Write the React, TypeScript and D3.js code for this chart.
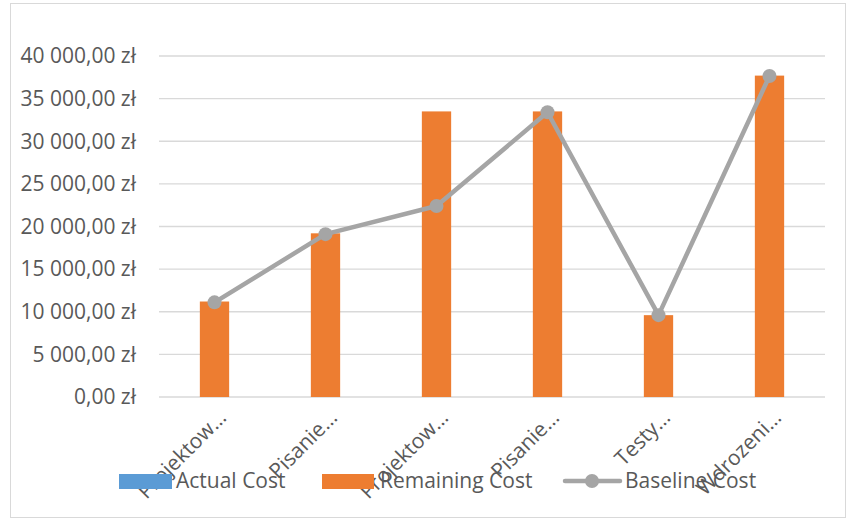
import React from "react";
import * as d3 from "d3";

const categories = ["Projektow…", "Pisanie…", "Projektow… ", "Pisanie… ", "Testy…", "Wdrozeni…"];
const actualCost = [0, 0, 0, 0, 0, 0];
const remainingCost = [11200, 19200, 33500, 33500, 9600, 37700];
const baselineCost = [11100, 19100, 22400, 33400, 9600, 37650];
const yTicks = [0, 5000, 10000, 15000, 20000, 25000, 30000, 35000, 40000];

const W = 846;
const H = 518;
const margin = { left: 159, right: 825, top: 56, bottom: 397 };
const FONT = "'Open Sans', 'Noto Sans', sans-serif";
const TEXT = "#595959";
const GRID = "#D9D9D9";
const BLUE = "#5B9BD5";
const ORANGE = "#ED7D31";
const GRAY = "#A5A5A5";

// "40 000,00 zł"
const fmtPLN = (v: number) => {
  const [int, dec] = v.toFixed(2).split(".");
  return `${int.replace(/\B(?=(\d{3})+(?!\d))/g, " ")},${dec} zł`;
};

export default function App() {
  const x = d3
    .scaleBand<string>()
    .domain(categories)
    .range([margin.left, margin.right])
    .paddingInner(0.736)
    .paddingOuter(0.368);

  const y = d3.scaleLinear().domain([0, 40000]).range([margin.bottom, margin.top]);

  const cx = (c: string) => (x(c) ?? 0) + x.bandwidth() / 2;

  const line = d3
    .line<number>()
    .x((_, i) => cx(categories[i]))
    .y(d => y(d));

  return (
    <svg
      width={W}
      height={H}
      style={{ position: "absolute", left: 0, top: 0, background: "#fff" }}
      fontFamily={FONT}
    >
      <rect x={10.5} y={3.5} width={W - 11} height={H - 4} fill="#fff" stroke={GRID} />

      {/* gridlines + y labels */}
      {yTicks.map(t => (
        <g key={t}>
          <line x1={margin.left} x2={margin.right} y1={y(t)} y2={y(t)} stroke={GRID} strokeWidth={1.3} />
          <text x={136} y={y(t)} dy="0.35em" textAnchor="end" fontSize={21} fill={TEXT}>
            {fmtPLN(t)}
          </text>
        </g>
      ))}

      {/* stacked bars: actual + remaining */}
      {categories.map((c, i) => (
        <g key={c}>
          <rect
            x={x(c)}
            width={x.bandwidth()}
            y={y(actualCost[i])}
            height={y(0) - y(actualCost[i])}
            fill={BLUE}
          />
          <rect
            x={x(c)}
            width={x.bandwidth()}
            y={y(actualCost[i] + remainingCost[i])}
            height={y(actualCost[i]) - y(actualCost[i] + remainingCost[i])}
            fill={ORANGE}
          />
        </g>
      ))}

      {/* baseline line */}
      <path d={line(baselineCost) || ""} fill="none" stroke={GRAY} strokeWidth={4.5} strokeLinejoin="round" />
      {baselineCost.map((v, i) => (
        <circle key={i} cx={cx(categories[i])} cy={y(v)} r={7} fill={GRAY} />
      ))}

      {/* x labels */}
      {categories.map(c => (
        <text
          key={c}
          transform={`translate(${cx(c) + 13},${419}) rotate(-45)`}
          textAnchor="end"
          fontSize={21}
          fill={TEXT}
        >
          {c.trim()}
        </text>
      ))}

      {/* legend */}
      <g fontSize={21} fill={TEXT}>
        <rect x={119} y={474} width={53} height={15} fill={BLUE} />
        <text x={176} y={481} dy="0.35em">Actual Cost</text>
        <rect x={322} y={474} width={52} height={15} fill={ORANGE} />
        <text x={380} y={481} dy="0.35em">Remaining Cost</text>
        <line x1={565} x2={620} y1={481} y2={481} stroke={GRAY} strokeWidth={4.5} strokeLinecap="round" />
        <circle cx={592} cy={481} r={7} fill={GRAY} />
        <text x={625} y={481} dy="0.35em">Baseline Cost</text>
      </g>
    </svg>
  );
}
